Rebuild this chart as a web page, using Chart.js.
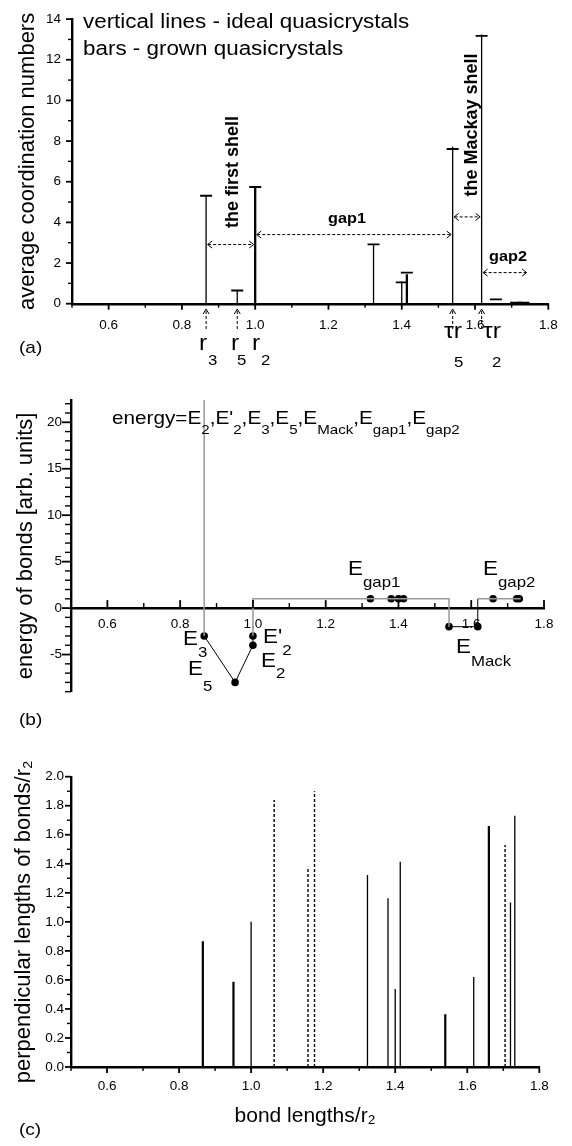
<!DOCTYPE html>
<html>
<head>
<meta charset="utf-8">
<title>bond lengths</title>
<script src="https://cdn.jsdelivr.net/npm/chart.js@4.4.1/dist/chart.umd.min.js"></script>
<style>
  body { margin: 0; background: #fff; }
  canvas { position: absolute; left: 0; }
</style>
</head>
<body>
<canvas id="coordChart" width="572" height="380" style="top:0"></canvas>
<canvas id="energyChart" width="572" height="380" style="top:380px"></canvas>
<canvas id="perpChart" width="572" height="386" style="top:760px"></canvas>
<script>
// shared x axis
const bondTicks = [0.6, 0.8, 1.0, 1.2, 1.4, 1.6, 1.8];

// (a) average coordination numbers
const idealBonds = [0.866, 0.951, 1.0, 1.323, 1.40, 1.414, 1.539, 1.618];
const idealCoord = [5.31, 0.65, 5.74, 2.92, 1.10, 1.45, 7.72, 13.24];
const grownBonds = [0.866, 0.951, 1.0, 1.323, 1.40, 1.414, 1.539, 1.618, 1.657, 1.712, 1.732];
const grownCoord = [5.31, 0.65, 5.74, 2.92, 1.05, 1.53, 7.61, 13.17, 0.21, 0.05, 0.05];
const coordTicks = [0, 2, 4, 6, 8, 10, 12, 14];
// [from, to, height] of the dashed range arrows
const shellRanges = [[0.866, 1.0, 2.91], [1.0, 1.539, 3.4], [1.539, 1.618, 4.27], [1.618, 1.745, 1.53]];
const markedBonds = [0.866, 0.951, 1.539, 1.618];

// (b) energy of bonds
const wallBonds = [0.866, 0.866];
const wallEnergy = [22.4, -3];
const shellBonds = [0.866, 0.951, 1.0, 1.0];
const shellEnergy = [-3, -8, -4, -3];
const gap1Bonds = [1.0, 1.0, 1.539, 1.539];
const gap1Energy = [-3, 1, 1, -2];
const mackBonds = [1.539, 1.618, 1.618];
const mackEnergy = [-2, -2, 1];
const gap2Bonds = [1.618, 1.736];
const gap2Energy = [1, 1];
const energyBonds = [0.866, 0.951, 1.0, 1.0, 1.323, 1.38, 1.40, 1.414, 1.539, 1.618, 1.66, 1.725, 1.732];
const energyValues = [-3, -8, -4, -3, 1, 1, 1, 1, -2, -2, 1, 1, 1];
const energyTicks = [-5, 0, 5, 10, 15, 20];

// (c) perpendicular lengths
const perpBonds = [0.866, 0.951, 1.0, 1.323, 1.38, 1.40, 1.414, 1.539, 1.618, 1.66, 1.72, 1.732];
const perpLengths = [0.866, 0.588, 1.0, 1.323, 1.162, 0.537, 1.414, 0.363, 0.62, 1.66, 1.134, 1.731];
const missingBonds = [1.064, 1.158, 1.176, 1.705];
const missingLengths = [1.84, 1.38, 1.90, 1.53];
const perpTicks = [0, 0.2, 0.4, 0.6, 0.8, 1.0, 1.2, 1.4, 1.6, 1.8, 2.0];

const boldA = [1.0, 1.414];
const boldC = [0.866, 0.951, 1.539, 1.66];

const FONT = "'Liberation Sans', Arial, sans-serif";
const SX = 1.12;   // the scanned figure is a little wider than tall
Chart.defaults.font.family = FONT;
Chart.defaults.color = '#000';

const pts = (xs, ys) => xs.map((x, i) => ({ x, y: ys[i] }));
const spikes = (xs, ys) => xs.flatMap((x, i) => [{ x, y: 0 }, { x, y: ys[i] }, { x, y: null }]);


function say(ctx, s, x, y, size, bold, align) {
    ctx.save();
    ctx.font = (bold ? 'bold ' : '') + size + 'px ' + FONT;
    ctx.fillStyle = '#000';
    ctx.textAlign = align || 'left';
    ctx.translate(x, y);
    ctx.scale(SX, 1);
    ctx.fillText(s, 0, 0);
    const w = ctx.measureText(s).width * SX;
    ctx.restore();
    return w;
}

// text with subscripts: parts = [text, size, dy]
function runs(ctx, x, y, parts) {
    parts.forEach(([s, size, dy]) => { x += say(ctx, s, x, y + dy, size); });
}

function vsay(ctx, s, x, y, size) {
    ctx.save();
    ctx.font = 'bold ' + size + 'px ' + FONT;
    ctx.fillStyle = '#000';
    ctx.textAlign = 'center';
    ctx.translate(x, y);
    ctx.rotate(-Math.PI / 2);
    ctx.fillText(s, 0, 0);
    ctx.restore();
}

function hArrow(ctx, x1, x2, y) {
    ctx.save();
    ctx.strokeStyle = '#000';
    ctx.lineWidth = 1;
    ctx.setLineDash([3, 2]);
    ctx.beginPath();
    ctx.moveTo(x1 + 2, y);
    ctx.lineTo(x2 - 2, y);
    ctx.stroke();
    ctx.setLineDash([]);
    ctx.beginPath();
    ctx.moveTo(x1 + 6, y - 3.5); ctx.lineTo(x1 + 1.5, y); ctx.lineTo(x1 + 6, y + 3.5);
    ctx.moveTo(x2 - 6, y - 3.5); ctx.lineTo(x2 - 1.5, y); ctx.lineTo(x2 - 6, y + 3.5);
    ctx.stroke();
    ctx.restore();
}

function vArrow(ctx, x, y1, y2) {
    ctx.save();
    ctx.strokeStyle = '#000';
    ctx.lineWidth = 1;
    ctx.setLineDash([3, 2]);
    ctx.beginPath();
    ctx.moveTo(x, y1 + 2);
    ctx.lineTo(x, y2);
    ctx.stroke();
    ctx.setLineDash([]);
    ctx.beginPath();
    ctx.moveTo(x - 3, y1 + 5); ctx.lineTo(x, y1); ctx.lineTo(x + 3, y1 + 5);
    ctx.stroke();
    ctx.restore();
}


// major and minor tick marks, drawn on the library scales
function tickMarks(specs) {
    return {
        id: 'tickMarks',
        afterDraw(chart) {
            const { ctx, chartArea } = chart;
            ctx.save();
            ctx.strokeStyle = '#000';
            specs.forEach(t => {
                const sc = chart.scales[t.axis];
                const n = Math.round((t.max - t.min) / t.step);
                for (let i = 0; i <= n; i++) {
                    const v = t.min + i * t.step;
                    const major = Math.abs(v / t.major - Math.round(v / t.major)) < 1e-6;
                    const len = major ? t.len[0] : t.len[1];
                    const p = sc.getPixelForValue(v);
                    ctx.lineWidth = major ? 1.8 : 1.4;
                    ctx.beginPath();
                    if (t.axis === 'x') {
                        const y0 = t.at === undefined ? chartArea.bottom : chart.scales.y.getPixelForValue(t.at);
                        ctx.moveTo(p, y0);
                        ctx.lineTo(p, y0 + t.dir * len);
                    } else {
                        ctx.moveTo(chartArea.left, p);
                        ctx.lineTo(chartArea.left - len, p);
                    }
                    ctx.stroke();
                }
            });
            ctx.restore();
        }
    };
}


function bondAxis(pad, height, extra) {
    return Object.assign({
        type: 'linear', min: 0.5, max: 1.8,
        grid: { display: false, drawTicks: false },
        border: { color: '#000', width: 2.4 },
        ticks: { padding: pad, font: { size: 13.5 }, maxRotation: 0, autoSkip: false, callback: v => v.toFixed(1) },
        afterBuildTicks: s => { s.ticks = bondTicks.map(value => ({ value })); },
        afterFit: s => { s.height = height; }
    }, extra);
}

function valueAxis(min, max, ticks, digits, pad, width, title, titlePad) {
    return {
        type: 'linear', min: min, max: max,
        grid: { display: false, drawTicks: false },
        border: { color: '#000', width: 2.4 },
        ticks: { padding: pad, font: { size: 13.5 }, callback: v => v.toFixed(digits) },
        afterBuildTicks: s => { s.ticks = ticks.map(value => ({ value })); },
        afterFit: s => { s.width = width; },
        title: { display: true, text: title, font: { size: 22 }, padding: { top: titlePad, bottom: 0 } }
    };
}

const baseOptions = {
    responsive: false,
    animation: false,
    events: [],
    plugins: { legend: { display: false }, tooltip: { enabled: false } },
    elements: { line: { tension: 0 } }
};


// (a)
const notesA = {
    id: 'notesA',
    afterDraw(chart) {
        const { ctx, scales: { x, y } } = chart;
        say(ctx, 'vertical lines - ideal quasicrystals', 83, 28, 20);
        say(ctx, 'bars - grown quasicrystals', 83, 55, 20);
        shellRanges.forEach(([a, b, v]) => hArrow(ctx, x.getPixelForValue(a), x.getPixelForValue(b), y.getPixelForValue(v)));
        markedBonds.forEach(b => vArrow(ctx, x.getPixelForValue(b), 309, 331));
        vsay(ctx, 'the first shell', 238, 172, 18);
        vsay(ctx, 'the Mackay shell', 477, 125, 18);
        say(ctx, 'gap1', 347, 223, 14.5, true, 'center');
        say(ctx, 'gap2', 508, 261, 14.5, true, 'center');
        say(ctx, 'r', 199, 350, 22); say(ctx, '3', 208, 365, 15);
        say(ctx, 'r', 231, 350, 22); say(ctx, '5', 237, 365, 15);
        say(ctx, 'r', 252, 350, 22); say(ctx, '2', 261, 365, 15);
        say(ctx, 'τr', 444, 338, 22); say(ctx, '5', 454, 367, 15);
        say(ctx, 'τr', 483, 338, 22); say(ctx, '2', 492, 367, 15);
        say(ctx, '(a)', 19, 353, 17);
    }
};

new Chart(document.getElementById('coordChart'), {
    type: 'scatter',
    data: {
        datasets: [
            {
                data: spikes(idealBonds, idealCoord), showLine: true, spanGaps: false,
                borderColor: '#000', borderWidth: 1.3, pointRadius: 0,
                segment: { borderWidth: c => boldA.includes(c.p0.parsed.x) ? 2.3 : 1.3 }
            },
            {
                data: pts(grownBonds, grownCoord), showLine: false,
                pointStyle: 'line', pointRadius: 6, pointBorderColor: '#000', pointBorderWidth: 1.8
            }
        ]
    },
    options: Object.assign({}, baseOptions, {
        layout: { padding: { top: 10, right: 23.7, bottom: 0, left: 0 } },
        scales: {
            x: bondAxis(13, 76.3),
            y: valueAxis(0, 14, coordTicks, 0, 11, 72, 'average coordination numbers', 15)
        }
    }),
    plugins: [tickMarks([
        { axis: 'x', min: 0.5, max: 1.8, step: 0.1, major: 0.2, len: [6, 4], dir: 1 },
        { axis: 'y', min: 0, max: 14, step: 1, major: 2, len: [6, 4] }
    ]), notesA]
});


// (b)
const notesB = {
    id: 'notesB',
    afterDraw(chart) {
        const ctx = chart.ctx;
        runs(ctx, 112, 44, [
            ['energy=E', 18.5, 0], ['2', 13.5, 10], [",E'", 18.5, 0], ['2', 13.5, 10], [',E', 18.5, 0], ['3', 13.5, 10],
            [',E', 18.5, 0], ['5', 13.5, 10], [',E', 18.5, 0], ['Mack', 13.5, 10], [',E', 18.5, 0], ['gap1', 13.5, 10],
            [',E', 18.5, 0], ['gap2', 13.5, 10]
        ]);
        runs(ctx, 348, 195, [['E', 20, 0], ['gap1', 15, 12]]);
        runs(ctx, 483, 195, [['E', 20, 0], ['gap2', 15, 12]]);
        runs(ctx, 456, 273, [['E', 20, 0], ['Mack', 15, 13]]);
        runs(ctx, 183, 265, [['E', 20, 0], ['3', 15, 12]]);
        runs(ctx, 188, 295, [['E', 20, 0], ['5', 15, 16]]);
        runs(ctx, 263, 263, [["E'", 20, 0], ['2', 15, 12]]);
        runs(ctx, 261, 287, [['E', 20, 0], ['2', 15, 11]]);
        say(ctx, '(b)', 19, 345, 17);
    }
};

const grey = { showLine: true, borderColor: '#999', borderWidth: 1.5, pointRadius: 0 };
const black = { showLine: true, borderColor: '#000', borderWidth: 1, pointRadius: 0 };

new Chart(document.getElementById('energyChart'), {
    type: 'scatter',
    data: {
        datasets: [
            Object.assign({ data: pts(wallBonds, wallEnergy) }, grey),
            Object.assign({ data: pts(gap1Bonds, gap1Energy) }, grey),
            Object.assign({ data: pts(gap2Bonds, gap2Energy) }, grey),
            Object.assign({ data: pts(shellBonds, shellEnergy) }, black),
            Object.assign({ data: pts(mackBonds, mackEnergy) }, black),
            {
                data: pts(energyBonds, energyValues), showLine: false,
                pointRadius: 3.8, pointBackgroundColor: '#000', pointBorderWidth: 0
            }
        ]
    },
    options: Object.assign({}, baseOptions, {
        layout: { padding: { top: 20, right: 28, bottom: 68.3, left: 0 } },
        scales: {
            x: bondAxis(8, 0, { position: { y: 0 } }),
            y: valueAxis(-9, 22.4, energyTicks, 0, 9, 71, 'energy of bonds [arb. units]', 13)
        }
    }),
    plugins: [tickMarks([
        { axis: 'x', min: 0.5, max: 1.8, step: 0.1, major: 0.2, len: [8, 5], dir: -1, at: 0 },
        { axis: 'y', min: -9, max: 22, step: 1, major: 5, len: [9, 6] }
    ]), notesB]
});


// (c)
const notesC = {
    id: 'notesC',
    afterDraw(chart) {
        say(chart.ctx, '(c)', 19, 375, 17);
    }
};

new Chart(document.getElementById('perpChart'), {
    type: 'scatter',
    data: {
        datasets: [
            {
                data: spikes(perpBonds, perpLengths), showLine: true, spanGaps: false,
                borderColor: '#000', borderWidth: 1.3, pointRadius: 0,
                segment: { borderWidth: c => boldC.includes(c.p0.parsed.x) ? 2.2 : 1.3 }
            },
            {
                data: spikes(missingBonds, missingLengths), showLine: true, spanGaps: false,
                borderColor: '#000', borderWidth: 1.4, borderDash: [3, 2], pointRadius: 0
            }
        ]
    },
    options: Object.assign({}, baseOptions, {
        layout: { padding: { top: 16.7, right: 32.7, bottom: 0, left: 0 } },
        scales: {
            x: bondAxis(11, 79, {
                title: { display: true, text: 'bond lengths/r₂', font: { size: 21 }, padding: { top: 0, bottom: 17 } }
            }),
            y: valueAxis(0, 2, perpTicks, 1, 7, 71, 'perpendicular lengths of bonds/r₂', 11)
        }
    }),
    plugins: [tickMarks([
        { axis: 'x', min: 0.5, max: 1.8, step: 0.1, major: 0.2, len: [6, 4], dir: 1 },
        { axis: 'y', min: 0, max: 2, step: 0.1, major: 0.2, len: [6, 4] }
    ]), notesC]
});
</script>
</body>
</html>
